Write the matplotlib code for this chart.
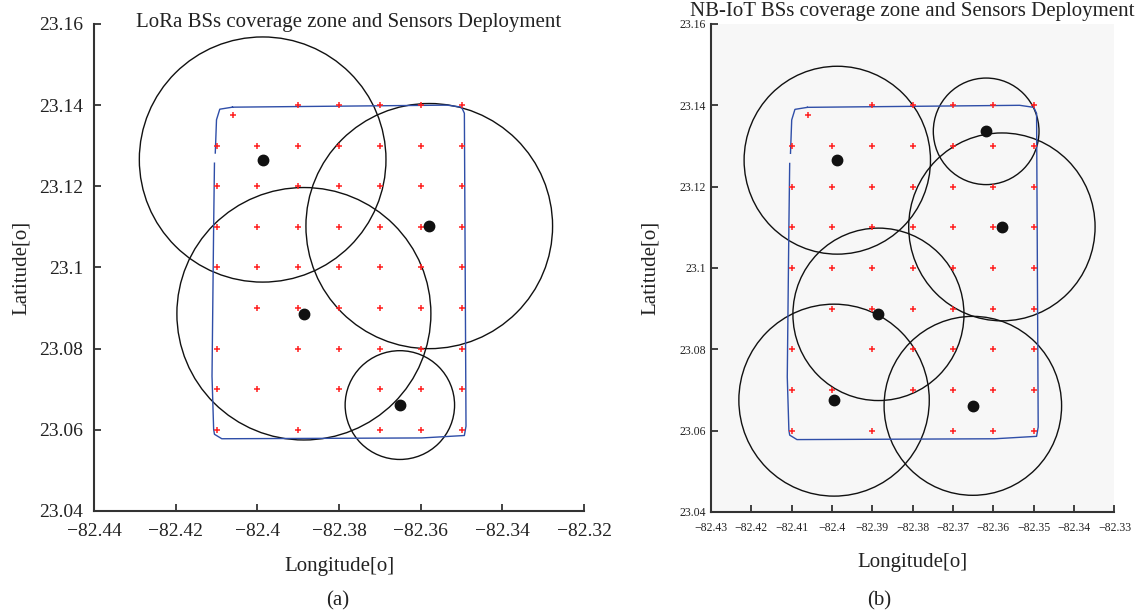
import matplotlib
matplotlib.use("Agg")
import matplotlib.pyplot as plt
from matplotlib.patches import Circle
from matplotlib.ticker import FuncFormatter, MultipleLocator
import numpy as np

# sensors, row by row (latitude of row, longitudes present in it)
row_lat = [23.14, 23.13, 23.12, 23.11, 23.10, 23.09, 23.08, 23.07, 23.06]
row_lon = [
    [-82.39, -82.38, -82.37, -82.36, -82.35],
    [-82.41, -82.40, -82.39, -82.38, -82.37, -82.36, -82.35],
    [-82.41, -82.40, -82.39, -82.38, -82.37, -82.36, -82.35],
    [-82.41, -82.40, -82.39, -82.38, -82.37, -82.36, -82.35],
    [-82.41, -82.40, -82.39, -82.38, -82.37, -82.36, -82.35],
    [-82.40, -82.39, -82.38, -82.37, -82.36, -82.35],
    [-82.41, -82.39, -82.38, -82.37, -82.36, -82.35],
    [-82.41, -82.40, -82.38, -82.37, -82.36, -82.35],
    [-82.41, -82.39, -82.37, -82.36, -82.35],
]
extra_lon = [-82.406]
extra_lat = [23.1376]

# area boundary (nan = small gap in the trace)
zone_lon = [-82.4061, -82.3535, -82.3500, -82.3493, -82.3489, -82.3493, -82.3597,
            -82.4087, -82.4105, -82.4107, -82.4111, -82.4107, -82.4105, np.nan,
            -82.4103, -82.4100, -82.4092, -82.4061]
zone_lat = [23.1395, 23.1400, 23.1395, 23.1380, 23.0609, 23.0586, 23.0580,
            23.0578, 23.0589, 23.0601, 23.0732, 23.1101, 23.1257, np.nan,
            23.1282, 23.1364, 23.1390, 23.1395]

# base stations
lora_lon = [-82.3987, -82.3579, -82.3886, -82.3651]
lora_lat = [23.1266, 23.1102, 23.0886, 23.0661]
lora_r = [0.0302, 0.0302, 0.0311, 0.0134]

nb_lon = [-82.3987, -82.3618, -82.3579, -82.3885, -82.3995, -82.3651]
nb_lat = [23.1265, 23.1336, 23.1101, 23.0886, 23.0675, 23.0661]
nb_r = [0.0231, 0.0131, 0.0231, 0.0212, 0.0236, 0.0220]

plt.rcParams['font.family'] = ['Liberation Serif', 'DejaVu Serif']

sens_lon = [x for row in row_lon for x in row] + extra_lon
sens_lat = [lat for lat, row in zip(row_lat, row_lon) for _ in row] + extra_lat

fmt = FuncFormatter(lambda v, p: ('%g' % round(v, 4)).replace('-', '\u2212'))


def draw(ax, bs_lon, bs_lat, bs_r, xlim, xstep, tick_fs):
    ax.plot(zone_lon, zone_lat, color='#2f4ea8', lw=1.0)
    ax.plot(sens_lon, sens_lat, '+', color='#ff2020', ms=5, mew=1.1)
    for x, y, r in zip(bs_lon, bs_lat, bs_r):
        ax.add_patch(Circle((x, y), r, fill=False, ec='#111111', lw=1.0))
    ax.plot(bs_lon, bs_lat, 'o', color='#111111', ms=7.5)
    ax.set_xlim(*xlim)
    ax.set_ylim(23.04, 23.16)
    ax.xaxis.set_major_locator(MultipleLocator(xstep))
    ax.yaxis.set_major_locator(MultipleLocator(0.02))
    ax.xaxis.set_major_formatter(fmt)
    ax.yaxis.set_major_formatter(fmt)
    ax.tick_params(direction='in', length=5, width=1.2, labelsize=tick_fs, colors='#222222')
    for s in ['top', 'right']:
        ax.spines[s].set_visible(False)
    for s in ['left', 'bottom']:
        ax.spines[s].set_linewidth(1.5)
        ax.spines[s].set_color('#333333')
    ax.set_xlabel('Longitude[o]', fontsize=15, color='#222222')
    ax.set_ylabel('Latitude[o]', fontsize=15, color='#222222')


fig = plt.figure(figsize=(11.38, 6.13), dpi=100)

ax1 = fig.add_axes([0.0826, 0.1664, 0.4306, 0.7945])
draw(ax1, lora_lon, lora_lat, lora_r, (-82.44, -82.32), 0.02, 14)
ax1.tick_params(axis='x', pad=9)
ax1.tick_params(axis='y', pad=8)
ax1.set_title('LoRa BSs coverage zone and Sensors Deployment', fontsize=15,
              color='#222222', x=0.52, y=1.0, pad=-2)
ax1.xaxis.labelpad = 12
ax1.yaxis.labelpad = 6

ax2 = fig.add_axes([0.6248, 0.1648, 0.3545, 0.7961])
ax2.set_facecolor('#f7f7f7')
draw(ax2, nb_lon, nb_lat, nb_r, (-82.43, -82.33), 0.01, 8.5)
ax2.tick_params(axis='x', pad=7)
ax2.set_title('NB-IoT BSs coverage zone and Sensors Deployment', fontsize=15,
              color='#222222', y=1.0, pad=6)
ax2.xaxis.labelpad = 14
ax2.yaxis.labelpad = 14

fig.text(0.297, 0.013, '(a)', fontsize=15, ha='center', color='#222222')
fig.text(0.773, 0.013, '(b)', fontsize=15, ha='center', color='#222222')

fig.savefig('out.png', dpi=100, facecolor='white')
